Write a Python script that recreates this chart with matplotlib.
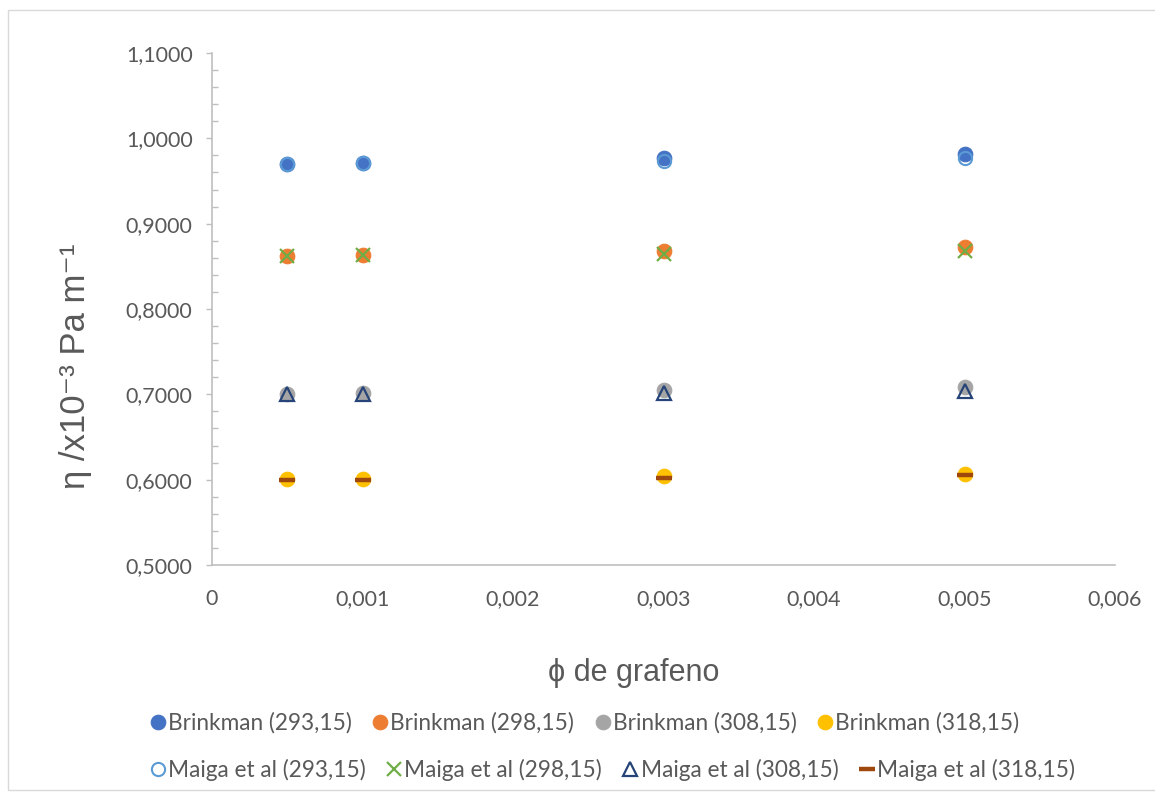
import matplotlib
matplotlib.use("Agg")
import matplotlib.pyplot as plt
from matplotlib.patches import Rectangle
from matplotlib.ticker import MultipleLocator, FuncFormatter

# Volume fraction of graphene
phi = [0.0005, 0.001, 0.003, 0.005]

# Viscosity (x10^-3) from the Brinkman model at each temperature (K)
brinkman_293 = [0.970, 0.971, 0.977, 0.982]
brinkman_298 = [0.862, 0.863, 0.868, 0.873]
brinkman_308 = [0.700, 0.701, 0.705, 0.709]
brinkman_318 = [0.601, 0.601, 0.604, 0.607]

# Viscosity (x10^-3) from the Maiga et al correlation
maiga_293 = [0.970, 0.971, 0.973, 0.977]
maiga_298 = [0.862, 0.863, 0.865, 0.868]
maiga_308 = [0.700, 0.700, 0.702, 0.704]
maiga_318 = [0.600, 0.600, 0.602, 0.605]

brinkman_labels = ["Brinkman (293,15)", "Brinkman (298,15)",
                   "Brinkman (308,15)", "Brinkman (318,15)"]
maiga_labels = ["Maiga et al (293,15)", "Maiga et al (298,15)",
                "Maiga et al (308,15)", "Maiga et al (318,15)"]

x_ticks = [0, 0.001, 0.002, 0.003, 0.004, 0.005, 0.006]
y_ticks = [0.5, 0.6, 0.7, 0.8, 0.9, 1.0, 1.1]

TEXT = "#595959"
AXIS = "#BFBFBF"
TICK_FONT = "Lato"
TITLE_FONT = ["Liberation Sans", "DejaVu Sans"]

fig = plt.figure(figsize=(11.55, 7.96), dpi=100)
W, H = 1155, 796
ax = fig.add_axes([212 / W, 1 - 565 / H, (1115 - 212) / W, (565 - 53) / H])

ms = 10.5
handles_b = []
for ys, c, lab in zip([brinkman_293, brinkman_298, brinkman_308, brinkman_318],
                      ["#4472C4", "#ED7D31", "#A5A5A5", "#FFC000"], brinkman_labels):
    h, = ax.plot(phi, ys, linestyle="none", marker="o", markersize=ms,
                 markerfacecolor=c, markeredgecolor=c, markeredgewidth=0.8,
                 label=lab, zorder=3)
    handles_b.append(h)

handles_m = []
h, = ax.plot(phi, maiga_293, linestyle="none", marker="o", markersize=ms - 1,
             markerfacecolor="none", markeredgecolor="#5B9BD5", markeredgewidth=1.5,
             label=maiga_labels[0], zorder=4)
handles_m.append(h)
h, = ax.plot(phi, maiga_298, linestyle="none", marker="x", markersize=ms - 1,
             markeredgecolor="#70AD47", markeredgewidth=1.6,
             label=maiga_labels[1], zorder=4)
handles_m.append(h)
h, = ax.plot(phi, maiga_308, linestyle="none", marker="^", markersize=ms - 0.5,
             markerfacecolor="none", markeredgecolor="#264478", markeredgewidth=1.6,
             label=maiga_labels[2], zorder=4)
handles_m.append(h)
h, = ax.plot(phi, maiga_318, linestyle="none", marker="_", markersize=ms + 0.5,
             markeredgecolor="#9E480E", markeredgewidth=3.2,
             label=maiga_labels[3], zorder=4)
handles_m.append(h)

ax.set_xlim(0, 0.006)
ax.set_ylim(0.5, 1.1)
ax.set_xticks(x_ticks)
ax.set_yticks(y_ticks)
ax.yaxis.set_minor_locator(MultipleLocator(0.02))


def comma_fmt(decimals):
    def f(v, pos):
        if decimals is None:
            s = ("%.3f" % v).rstrip("0").rstrip(".")
            if s in ("0", "-0"):
                return "0"
            return s.replace(".", ",")
        return ("%.*f" % (decimals, v)).replace(".", ",")
    return FuncFormatter(f)


ax.xaxis.set_major_formatter(comma_fmt(None))
ax.yaxis.set_major_formatter(comma_fmt(4))

for s in ["top", "right"]:
    ax.spines[s].set_visible(False)
for s in ["left", "bottom"]:
    ax.spines[s].set_color(AXIS)
    ax.spines[s].set_linewidth(1.2)

ax.tick_params(axis="x", length=0, pad=17, labelsize=15.5, labelcolor=TEXT)
ax.tick_params(axis="y", which="major", direction="out", length=4, width=1,
               color=AXIS, pad=10, labelsize=15.5, labelcolor=TEXT)
ax.tick_params(axis="y", which="minor", direction="in", length=4, width=1,
               color=AXIS)
for lbl in ax.get_xticklabels() + ax.get_yticklabels():
    lbl.set_fontfamily(TICK_FONT)

fig.text(634 / W, 1 - 673 / H, "ϕ de grafeno", ha="center", va="center",
         fontsize=22, color=TEXT, family=TITLE_FONT)
fig.text(76 / W, 1 - 366 / H, "η /x10⁻³ Pa m⁻¹", ha="center", va="center",
         rotation=90, fontsize=25, color=TEXT, family=TITLE_FONT)

leg_kw = dict(loc="center left", ncol=4, frameon=False, handlelength=0.7,
              handletextpad=0.1, columnspacing=0.9, borderaxespad=0,
              borderpad=0, prop={"family": TICK_FONT, "size": 16.3})
leg1 = fig.legend(handles=handles_b, bbox_to_anchor=(150 / W, 1 - 723 / H), **leg_kw)
leg2 = fig.legend(handles=handles_m, bbox_to_anchor=(150 / W, 1 - 770 / H), **leg_kw)
for leg in (leg1, leg2):
    for t in leg.get_texts():
        t.set_color(TEXT)

# Chart area border
fig.patches.append(Rectangle((8 / W, 1 - 790 / H), (1160 - 8) / W, (790 - 10) / H,
                             transform=fig.transFigure, fill=False,
                             edgecolor="#D9D9D9", linewidth=1.0))

fig.savefig("out.png", dpi=100)
